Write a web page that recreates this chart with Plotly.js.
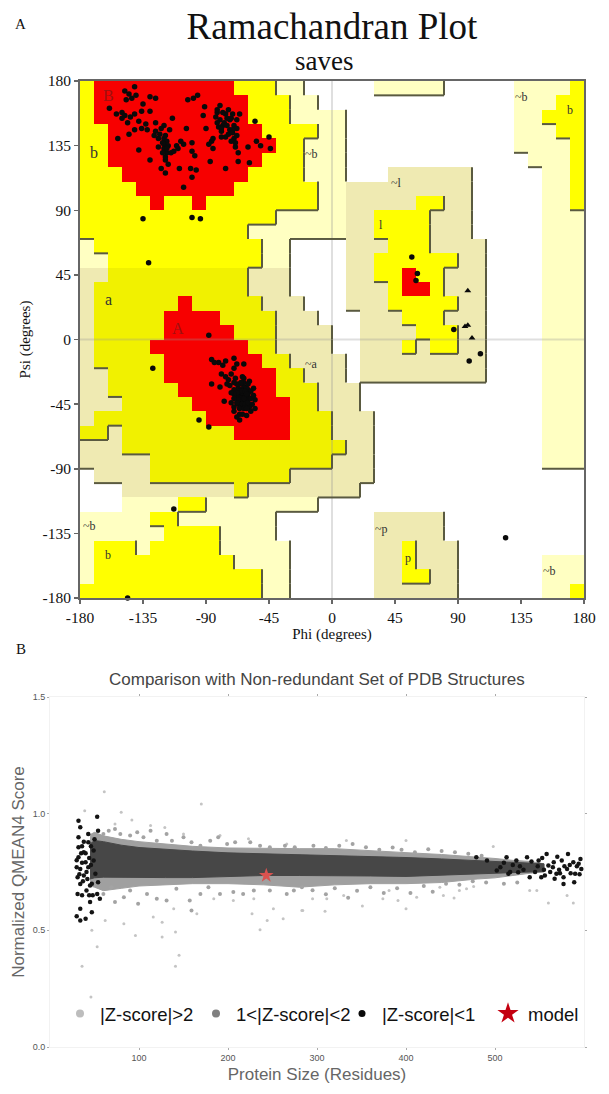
<!DOCTYPE html>
<html>
<head>
<meta charset="utf-8">
<script src="https://cdn.plot.ly/plotly-3.0.1.min.js"></script>
<style>html,body{margin:0;padding:0;background:#fff}#chart{width:609px;height:1094px}</style>
</head>
<body>
<div id="chart"></div>
<script>
// ---------- Panel A: region grid, rows run from psi 180 down, columns from phi -180 ----------
var regionRows = [
"y rrrrrrrrrr yyy pp ..... ppppp ..... pppp y",
"y rrrrrrrrrrr yyy pp .............. ppp yy",
"y rrrrrrrrrrr yyy pppp ............ pp yyy",
"yy rrrrrrrrrrr yyyy pp ............ ppp yy",
"yy rrrrrrrrrrrr yy ppp ............ pppp y",
"yy rrrrrrrrrrr yyy ppp ............. ppp y",
"yyy rrrrrrrrr yyyy ppp ... tttttt ..... pp y",
"yyyy rrrrrrr yyyyyy pp ttttttttt ..... pp y",
"yyyyy r yy r yyyyyyyy pp ttttt yy tt ..... pp y",
"yyyyyyyyyyyyyy ppppp tt yyyy ttt ..... ppp",
"yyyyyyyyyyyy ppppppp tt yyyy ttt ..... ppp",
"p yyyyyyyyyyyy pp .... ttt yyy tttt .... ppp",
"pp yyyyyyyyyyy pp .... tt yyyyyy tt .... ppp",
"tt oooooooooo ttt .... tt yy r yy ttt .... ppp",
"t ooooooooooo ttt .... ttt y rr y ttt .... ppp",
"t oooooo r ooooo ttt ... ttt yyyyy tt .... ppp",
"t ooooo rrrr oooo ttt ... ttt yyy ttt .... ppp",
"t ooooo rrrrr ooo tttt .. tttt yyy tt .... ppp",
"t oooo rrrrrrr oo tttt .. ttt y t yy tt .... ppp",
"t ooooo rrrrrrr oo tttt . ttttttttt .... ppp",
"tt oooo rrrrrrrr oo ttt . ttttttttt .... ppp",
"tt ooooo rrrrrrr ooo ttt ............. ppp",
"ttt ooooo rrrrrrr oo ttt ............. ppp",
"t oooooooo rrrrrr ooo ttt ............ ppp",
"oo t oooooooo rrrr ooo ttt ............ ppp",
"ttt oooooooooooooooo tt ............ ppp",
"ttttt ooooooooooooo ttt ............ ppp",
". tttt oooooooooo tttttt ...............",
"... tttttttt o tttttttt ................",
"... pppp yy pppppppp ...................",
"ppppp yy ppppppp ....... ttttt ..........",
"pppppp yyyy pppp ....... ttttt ..........",
"p yyy p yyyyy ppppp ...... tt y ttt .........",
"p yyyyyyyyyy pppp ...... tt y ttt ...... ppp",
"p yyyyyyyyyyyy pp ...... tt yy tt ...... ppp",
"yyyyyyyyyyyyy pp ...... tttttt ...... pp y"
];
var regionCodes = {".":0,"p":1,"t":2,"y":3,"o":4,"r":5};
var regionLevels = {".":0,"p":1,"t":1,"y":2,"o":2,"r":3};
var regionColors = ["#ffffff","#ffffc2","#efeab2","#ffff00","#f1f100","#f70000"];

// Residues
var coilPhi = [-141,-148,-145,-143,-135,-130,-126,-159,-154,-150,-148,-144,-141,-136,-130,-126,-120,-114,-104,-145,-141,-136,-153,-138,-130,-126,-124,-120,-118,-120,-118,-119,-115,-111,-106,-100,-100,-122,-119,-109,-101,-97,-100,-106,-87,-76,-67,-59,-103,-99,-96,-91,-92,-90,-86,-85,-80,-83,-80,-76,-73,-70,-78,-81,-73,-68,-76,-70,-69,-66,-72,-60,-51,-44,-55,-45,-54,-75,-79,-74,-123,-119,-117,-119,-120,-124,-77,-71,-82,-79,-135,-100,-94,-131,-128,-95,-88,-113,-146,
  -82,-78,-74,-71,-68,-82,-79,-75,-71,-68,-72,-69,-67,-88,-85,-122,-116,-121,-117,-113,-110,-108,-98,-140,-147,-150,-146,-138,-133,-132,-127,-121,-118,
  -86,-81,-76,-70,-63,-70,-79,-72,-86,-80,-75,-69,-64,-59,-56,-60,-63,-67,-70,-73,-65,-62,-66,-68,-60,-55,-64,-67,-65,-59,-55,-77,-70,-66,-58,-66,-61,-63,-62,-66,-68,-65,-58,-70,-65,-88,-64,-62,-66,-63,-61,-67,-60,
  -66,-64,-62,-68,-70,-63,-61,-67,-64,-62,-60,-68,-66,-63,-61,-70,-72,-58,-56,-60,-65,-70,-74,-76,-78,-68,-84,-72,-64,-68,-61,-57,
  57,61,60,87,106,98,124];
var coilPsi = [176,173,171,168,164,169,168,161,157,158,156,155,157,159,159,151,149,154,147,143,146,147,140,132,125,145,140,140,138,133,130,125,130,135,136,137,131,119,116,119,119,118,113,106,124,119,124,123,167,168,170,162,156,147,138,133,163,155,153,157,153,149,149,148,146,147,141,140,134,157,154,134,135,133,152,141,138,154,145,143,143,142,135,127,136,134,151,146,158,141,84,85,84,53.5,-20,-56,-61,-118,-180,
  160,158,160,157,153,151,147,149,144,142,138,137,130,136,140,147,146,130,122,131,133,138,128,170,167,154,151,152,150,146,142,137,133,
  -14,-16,-15,-13,-17,-20,-24,-24,-31,-33,-31,-27,-26,-29,-34,-35,-33,-34,-35,-32,-38,-39,-40,-39,-41,-42,-43,-45,-47,-47,-48,-43,-50,-52,-50,-56,-34,-27,-42,-31,-31,-35,-36,-47,-41,3,-37,-44,-36,-30,-46,-42,-38,
  -36,-36,-36,-37,-38,-41,-38,-42,-45,-45,-44,-44,-48,-48,-48,-41,-37,-41,-39,-31,-30,-30,-28,-26,-18,-17,-16,-44,-52,-54,-53,-45,
  57.4,46,41,7,-10,-15,-138];
var glyPhi = [97,95,97,100];
var glyPsi = [34,9,10,1];

var regionLabelText = ["B","b","a","A","~b","~l","l","~a","~b","b","~p","p","~b","b","~b"];
var regionLabelPhi  = [-160,-170,-160,-110,-15,46,35,-15,-173,-160,35,54,135,170,155];
var regionLabelPsi  = [170,130,28,8,129,109,79.5,-17,-130,-150,-132,-152,169,160,-161];
var ramaTicks = [-180,-135,-90,-45,0,45,90,135,180];
var ramaTickText = ["-180","-135","-90","-45","0","45","90","135","180"];

// ---------- Panel B: readings from the QMEAN plot ----------
var bandSize  = [45,50,60,80,100,130,160,200,240,280,320,360,400,440,480,500,520,540,555];
var darkUpper = [.87,.885,.88,.865,.855,.846,.84,.832,.828,.825,.822,.818,.812,.806,.798,.795,.792,.788,.785];
var darkLower = [.72,.725,.728,.727,.727,.726,.726,.73,.735,.735,.735,.733,.731,.735,.74,.743,.747,.75,.752];
var midUpper  = [.91,.92,.905,.89,.88,.87,.86,.853,.85,.85,.85,.84,.833,.825,.815,.808,.80,.795,.785];
var midLower  = [.69,.685,.67,.68,.69,.695,.70,.70,.695,.685,.695,.70,.70,.705,.72,.725,.735,.745,.75];

var farSize  = [61,170,39,80,92,113,129,73,150,191,223,266,47,62,53,96,126,141,145,83,116,126,165,227,244,236,262,251,283,139,184,206,229,333,400,498,284,309,351,400,374,391,412,442,454,560,588,581,539,547,476,460,468,311,295,330,381,438,36,46,141];
var farScore = [1.094,1.041,1.013,1.006,.973,.949,.941,.956,.913,.906,.892,.870,.50,.542,.43,.478,.471,.493,.393,.528,.557,.535,.571,.571,.542,.503,.55,.592,.585,.592,.635,.628,.635,.885,.885,.859,.585,.582,.604,.592,.635,.628,.642,.649,.639,.617,.617,.649,.671,.671,.688,.671,.678,.635,.635,.649,.671,.685,.346,.214,.346];

var midSize  = [60,66,73,79,90,98,105,113,120,131,137,150,159,169,180,189,199,208,225,236,247,264,275,60,69,73,83,90,99,109,120,131,142,157,159,169,178,191,206,217,229,247,266,274,283,296,310,325,340,355,370,385,395,410,425,440,455,470,485,295,310,320,335,345,360,375,390,405,420,430,445,460,475,490,510,525];
var midScore = [.913,.927,.934,.913,.906,.92,.899,.927,.884,.913,.884,.899,.877,.863,.884,.899,.87,.877,.877,.863,.856,.863,.856,.656,.685,.621,.642,.671,.614,.656,.635,.628,.678,.628,.585,.656,.685,.656,.664,.656,.671,.671,.656,.671,.685,.862,.853,.862,.87,.856,.845,.855,.845,.835,.848,.84,.835,.828,.82,.672,.655,.68,.64,.67,.685,.66,.68,.66,.69,.665,.7,.695,.71,.705,.7,.705];

var nearSize  = [32,53,34,54,32,43,32,38,43,49,32,40,49,34,43,31,38,51,34,45,54,31,41,53,56,34,45,30,34,40,47,506,513,515,524,526,536,539,549,552,558,560,566,569,575,577,581,582,588,590,596,597,577,589,567,479,491,502,
  36,40,44,36,41,46,33,37,42,47,35,46,38,50,30,30,48,44,36,520,532,545,555,565,572,584,592,578,548,562,573,585,595,541,553,528,510,517,570,594,556];
var nearScore = [.97,.987,.942,.927,.899,.913,.856,.835,.877,.842,.813,.792,.799,.763,.77,.728,.735,.742,.699,.692,.706,.656,.671,.656,.635,.592,.621,.56,.542,.55,.578,.77,.813,.742,.799,.749,.813,.728,.799,.728,.827,.778,.792,.742,.799,.728,.763,.827,.792,.742,.806,.763,.699,.706,.721,.813,.799,.756,
  .86,.83,.81,.79,.75,.78,.74,.71,.72,.70,.83,.86,.88,.89,.8,.77,.65,.65,.65,.78,.76,.75,.76,.77,.76,.78,.775,.775,.775,.75,.745,.745,.74,.795,.81,.775,.79,.75,.815,.785,.735];

var modelSize = [243];
var modelScore = [0.735];
var legendNames = ["|Z-score|>2","1<|Z-score|<2","|Z-score|<1","model"];
var qmeanXTicks = [100,200,300,400,500];
var qmeanYTicks = [0,0.5,1,1.5];

// ---------- Build ----------
var W = 609, H = 1094;
function fx(p){return p/W;}
function fy(p){return 1-p/H;}

var grid = regionRows.map(function(r){return r.replace(/ /g,"").split("");});
var zGrid = grid.map(function(r){return r.map(function(c){return regionCodes[c];});});
var cellX = grid[0].map(function(_,i){return -175+10*i;});
var cellY = grid.map(function(_,i){return 175-10*i;});

var edgeX = [], edgeY = [];
grid.forEach(function(row,r){
  row.forEach(function(ch,c){
    var L = regionLevels[ch];
    if(L<1||L>2) return;
    if(c<35 && regionLevels[row[c+1]]<L){ edgeX.push(cellX[c]+5,cellX[c]+5,null); edgeY.push(cellY[r]+5,cellY[r]-5,null); }
    if(r<35 && regionLevels[grid[r+1][c]]<L){ edgeX.push(cellX[c]-5,cellX[c]+5,null); edgeY.push(cellY[r]-5,cellY[r]-5,null); }
  });
});

var scale = regionColors.map(function(col,i){return [[i/6,col],[(i+1)/6,col]];}).reduce(function(a,b){return a.concat(b);},[]);

function poly(upper,lower){
  return {x:bandSize.concat(bandSize.slice().reverse()), y:upper.concat(lower.slice().reverse())};
}
var midPoly = poly(midUpper,midLower), darkPoly = poly(darkUpper,darkLower);

var traces = [
 {type:"heatmap",x:cellX,y:cellY,z:zGrid,zmin:0,zmax:6,colorscale:scale,showscale:false,hoverinfo:"skip",xaxis:"x",yaxis:"y"},
 {type:"scatter",mode:"lines",x:[0,0,null,-180,180],y:[-180,180,null,0,0],line:{color:"rgba(150,150,150,0.3)",width:2},hoverinfo:"skip",showlegend:false,xaxis:"x",yaxis:"y"},
 {type:"scatter",mode:"lines",x:edgeX,y:edgeY,line:{color:"#5a5a40",width:2},hoverinfo:"skip",showlegend:false,connectgaps:false,xaxis:"x",yaxis:"y"},
 {type:"scatter",mode:"markers",x:coilPhi,y:coilPsi,marker:{color:"#0a0a0a",size:5.5},cliponaxis:false,showlegend:false,xaxis:"x",yaxis:"y"},
 {type:"scatter",mode:"markers",x:glyPhi,y:glyPsi,marker:{color:"#0a0a0a",size:6,symbol:"triangle-up"},cliponaxis:false,showlegend:false,xaxis:"x",yaxis:"y"},

 {type:"scatter",mode:"markers",x:farSize,y:farScore,marker:{color:"#c4c4c4",size:3},showlegend:false,xaxis:"x2",yaxis:"y2"},
 {type:"scatter",mode:"lines",x:midPoly.x,y:midPoly.y,fill:"toself",fillcolor:"#a0a0a0",line:{color:"#a0a0a0",width:1},hoverinfo:"skip",showlegend:false,xaxis:"x2",yaxis:"y2"},
 {type:"scatter",mode:"markers",x:midSize,y:midScore,marker:{color:"#a3a3a3",size:4},showlegend:false,xaxis:"x2",yaxis:"y2"},
 {type:"scatter",mode:"lines",x:darkPoly.x,y:darkPoly.y,fill:"toself",fillcolor:"#474747",line:{color:"#474747",width:1},hoverinfo:"skip",showlegend:false,xaxis:"x2",yaxis:"y2"},
 {type:"scatter",mode:"markers",x:nearSize,y:nearScore,marker:{color:"#141414",size:4.5},showlegend:false,xaxis:"x2",yaxis:"y2"},
 {type:"scatter",mode:"markers",x:modelSize,y:modelScore,marker:{color:"#d9524f",size:11,symbol:"star"},showlegend:false,xaxis:"x2",yaxis:"y2"},

 {type:"scatter",mode:"markers",name:legendNames[0],legend:"legend",x:[null],y:[null],marker:{color:"#bdbdbd",size:8},xaxis:"x2",yaxis:"y2"},
 {type:"scatter",mode:"markers",name:legendNames[1],legend:"legend2",x:[null],y:[null],marker:{color:"#808080",size:8},xaxis:"x2",yaxis:"y2"},
 {type:"scatter",mode:"markers",name:legendNames[2],legend:"legend3",x:[null],y:[null],marker:{color:"#0a0a0a",size:7},xaxis:"x2",yaxis:"y2"},
 {type:"scatter",mode:"markers",name:legendNames[3],legend:"legend4",x:[null],y:[null],marker:{color:"#c40010",size:19,symbol:"star"},xaxis:"x2",yaxis:"y2"}
];

var serif = "Liberation Serif, serif";
var sans = "Liberation Sans, Arial, sans-serif";
function pageNote(text,px,py,font){
  return {text:text,xref:"paper",yref:"paper",x:fx(px),y:fy(py),xanchor:"center",yanchor:"middle",showarrow:false,font:font};
}
function legendAt(px){
  return {orientation:"h",x:fx(px),xanchor:"left",y:fy(1014),yanchor:"middle",bgcolor:"rgba(0,0,0,0)",font:{family:sans,size:18.5,color:"#111"},itemsizing:"trace"};
}
var annotations = [
 pageNote("A",20,24,{family:serif,size:15,color:"#111"}),
 pageNote("B",21,649,{family:serif,size:15,color:"#111"}),
 pageNote("saves",324,61,{family:serif,size:27,color:"#111"}),
 pageNote("Comparison with Non-redundant Set of PDB Structures",317,679,{family:sans,size:17,color:"#444"})
];
regionLabelText.forEach(function(t,i){
  annotations.push({text:t,x:regionLabelPhi[i],y:regionLabelPsi[i],xref:"x",yref:"y",showarrow:false,font:{family:serif,size:(t==="a"||t==="A"||t==="B"||t==="b")&&i<4?16:12,color:t==="B"||t==="A"?"#a01010":"#333"}});
});

var layout = {
 width:W,height:H,margin:{l:0,r:0,t:0,b:0},paper_bgcolor:"#fff",plot_bgcolor:"#fff",showlegend:true,hovermode:"closest",
 title:{text:"Ramachandran Plot",x:fx(332),xanchor:"center",y:fy(26),yanchor:"middle",font:{family:serif,size:37,color:"#111"}},
 xaxis:{domain:[fx(80),fx(584)],range:[-180,180],anchor:"y",tickmode:"array",tickvals:ramaTicks,ticktext:ramaTickText,ticks:"outside",ticklen:4,tickcolor:"#666",tickwidth:1.5,showgrid:false,zeroline:false,showline:true,mirror:true,linecolor:"#666",linewidth:2,
   tickfont:{family:serif,size:15.5,color:"#111"},title:{text:"Phi (degrees)",standoff:4,font:{family:serif,size:15,color:"#111"}}},
 yaxis:{domain:[fy(598),fy(81)],range:[-180,180],anchor:"x",tickmode:"array",tickvals:ramaTicks,ticktext:ramaTickText,ticks:"outside",ticklen:4,tickcolor:"#666",tickwidth:1.5,showgrid:false,zeroline:false,showline:true,mirror:true,linecolor:"#666",linewidth:2,
   tickfont:{family:serif,size:15.5,color:"#111"},title:{text:"Psi (degrees)",standoff:8,font:{family:serif,size:15,color:"#111"}}},
 xaxis2:{domain:[fx(50),fx(584)],range:[0,600],anchor:"y2",tickmode:"array",tickvals:qmeanXTicks,ticks:"outside",ticklen:2,tickcolor:"#aaa",showgrid:false,zeroline:false,showline:true,mirror:"ticks",linecolor:"#f2f2f2",linewidth:1,
   tickfont:{family:sans,size:9,color:"#555"},title:{text:"Protein Size (Residues)",standoff:6,font:{family:sans,size:17,color:"#666"}}},
 yaxis2:{domain:[fy(1047),fy(697)],range:[0,1.5],anchor:"x2",tickmode:"array",tickvals:qmeanYTicks,tickformat:".1f",ticks:"outside",ticklen:2,tickcolor:"#aaa",showgrid:false,zeroline:false,showline:true,mirror:"ticks",linecolor:"#f2f2f2",linewidth:1,
   tickfont:{family:sans,size:9,color:"#555"},title:{text:"Normalized QMEAN4 Score",standoff:3,font:{family:sans,size:17,color:"#666"}}},
 legend:legendAt(60),
 legend2:legendAt(196),
 legend3:legendAt(342),
 legend4:legendAt(488),
 annotations:annotations
};
Plotly.newPlot("chart",traces,layout,{displayModeBar:false,staticPlot:true});
</script>
</body>
</html>
